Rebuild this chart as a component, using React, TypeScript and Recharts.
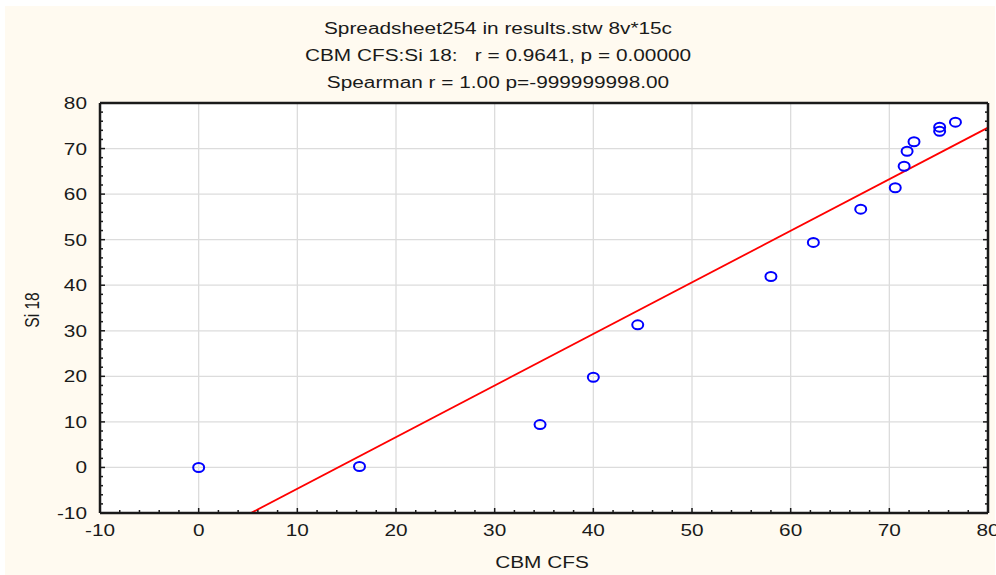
import {
  CartesianGrid,
  ReferenceLine,
  Scatter,
  ScatterChart,
  XAxis,
  YAxis,
} from "recharts"

const cbmCfs = [0, 16.3, 34.6, 40, 44.5, 58, 62.3, 67.1, 70.6, 71.5, 71.8, 72.5, 75.1, 75.1, 76.7]
const si18 = [0, 0.2, 9.4, 19.8, 31.3, 41.9, 49.4, 56.7, 61.4, 66.1, 69.4, 71.5, 73.8, 74.7, 75.8]

// fitted line endpoints
const fitLine = [
  { x: 5.3, y: -10 },
  { x: 80, y: 74.6 },
]

const majorTicks = [-10, 0, 10, 20, 30, 40, 50, 60, 70, 80]
const allTicks = [
  -10, -8, -6, -4, -2, 0, 2, 4, 6, 8, 10, 12, 14, 16, 18, 20, 22, 24, 26, 28, 30,
  32, 34, 36, 38, 40, 42, 44, 46, 48, 50, 52, 54, 56, 58, 60, 62, 64, 66, 68, 70,
  72, 74, 76, 78, 80,
]

const titles = [
  "Spreadsheet254 in results.stw 8v*15c",
  "CBM CFS:Si 18:   r = 0.9641, p = 0.00000",
  "Spearman r = 1.00 p=-999999998.00",
]

const data = cbmCfs.map((x, i) => ({ x, y: si18[i] }))

const font = '"Liberation Sans", Arial, sans-serif'
const ink = "#1a1a1a"
// the original is stretched sideways
const stretch = 1.3

const tickLen = (v: number) => (v % 10 === 0 ? 5 : 3)

function BottomTick(props: any) {
  const { x, y, payload } = props
  const v = payload.value
  return (
    <g>
      <line x1={x} x2={x} y1={y} y2={y - tickLen(v)} stroke={ink} strokeWidth={1.5} />
      {v % 10 === 0 && (
        <text
          transform={`translate(${x},${y + 23}) scale(${stretch},1)`}
          textAnchor="middle"
          fontSize={16}
          fill={ink}
          fontFamily={font}
        >
          {v}
        </text>
      )}
    </g>
  )
}

function TopTick(props: any) {
  const { x, y, payload } = props
  return <line x1={x} x2={x} y1={y} y2={y + tickLen(payload.value)} stroke={ink} strokeWidth={1.5} />
}

function LeftTick(props: any) {
  const { x, y, payload } = props
  const v = payload.value
  return (
    <g>
      <line x1={x} x2={x + tickLen(v)} y1={y} y2={y} stroke={ink} strokeWidth={1.5} />
      {v % 10 === 0 && (
        <text
          transform={`translate(${x - 13},${y + 6}) scale(${stretch},1)`}
          textAnchor="end"
          fontSize={16}
          fill={ink}
          fontFamily={font}
        >
          {v}
        </text>
      )}
    </g>
  )
}

function RightTick(props: any) {
  const { x, y, payload } = props
  return <line x1={x} x2={x - tickLen(payload.value)} y1={y} y2={y} stroke={ink} strokeWidth={1.5} />
}

function Ring(props: any) {
  const { cx, cy } = props
  return <ellipse cx={cx} cy={cy} rx={5.5} ry={4.5} fill="none" stroke="#0000ff" strokeWidth={2} />
}

const axisLine = { stroke: ink, strokeWidth: 2.5 }

export default function App() {
  return (
    <div style={{ position: "absolute", left: 0, top: 0, width: 996, height: 575, background: "#fff", fontFamily: font }}>
      <div style={{ position: "absolute", left: 5, top: 6, width: 990, height: 569, background: "#fffaf0" }} />
      {titles.map((t, i) => (
        <div
          key={t}
          style={{
            position: "absolute",
            left: 0,
            width: 996,
            top: 19 + i * 27,
            textAlign: "center",
            fontSize: 16,
            color: ink,
            whiteSpace: "pre",
            lineHeight: "20px",
            transform: `scaleX(${stretch})`,
          }}
        >
          {t}
        </div>
      ))}
      <div
        style={{
          position: "absolute",
          left: 0,
          width: 1084,
          top: 553,
          textAlign: "center",
          fontSize: 16,
          color: ink,
          lineHeight: "20px",
          transform: `scaleX(${stretch})`,
        }}
      >
        CBM CFS
      </div>
      <div
        style={{
          position: "absolute",
          left: 32,
          top: 310,
          transform: `translate(-50%, -50%) rotate(-90deg) scaleY(${stretch})`,
          fontSize: 15.5,
          color: ink,
          whiteSpace: "nowrap",
          lineHeight: "18px",
        }}
      >
        Si 18
      </div>
      <div style={{ position: "absolute", left: 0, top: 0 }}>
        <ScatterChart width={996} height={575} margin={{ top: 102, right: 7, bottom: 61, left: 99 }}>
          <CartesianGrid
            stroke="#dcdcdc"
            strokeWidth={1.3}
            horizontalValues={majorTicks}
            verticalValues={majorTicks}
            fill="#fff"
          />
          <XAxis
            type="number"
            dataKey="x"
            domain={[-10, 80]}
            ticks={allTicks}
            interval={0}
            height={1}
            tickSize={0}
            tickMargin={0}
            tickLine={false}
            tick={BottomTick}
            axisLine={axisLine}
            allowDataOverflow
          />
          <XAxis
            xAxisId="top"
            orientation="top"
            type="number"
            domain={[-10, 80]}
            ticks={allTicks}
            interval={0}
            height={1}
            tickSize={0}
            tickMargin={0}
            tickLine={false}
            tick={TopTick}
            axisLine={axisLine}
            allowDataOverflow
          />
          <YAxis
            type="number"
            dataKey="y"
            domain={[-10, 80]}
            ticks={allTicks}
            interval={0}
            width={1}
            tickSize={0}
            tickMargin={0}
            tickLine={false}
            tick={LeftTick}
            axisLine={axisLine}
            allowDataOverflow
          />
          <YAxis
            yAxisId="right"
            orientation="right"
            type="number"
            domain={[-10, 80]}
            ticks={allTicks}
            interval={0}
            width={1}
            tickSize={0}
            tickMargin={0}
            tickLine={false}
            tick={RightTick}
            axisLine={axisLine}
            allowDataOverflow
          />
          <ReferenceLine segment={fitLine} stroke="#ff0000" strokeWidth={1.8} />
          <Scatter data={data} shape={Ring} isAnimationActive={false} />
        </ScatterChart>
      </div>
    </div>
  )
}
